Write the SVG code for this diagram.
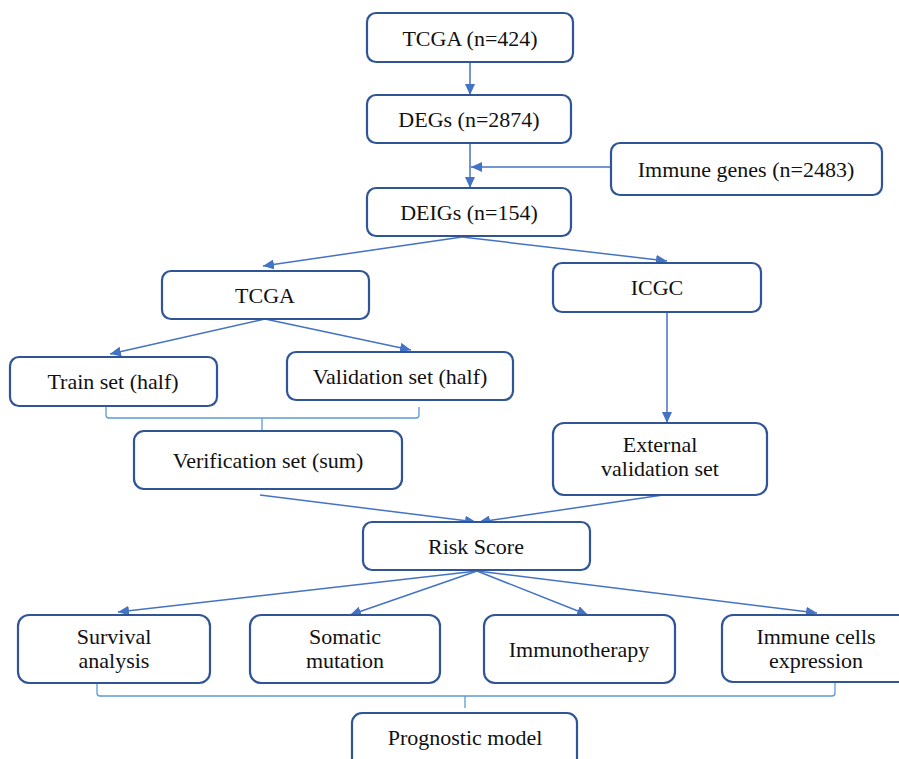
<svg xmlns="http://www.w3.org/2000/svg" width="899" height="759" viewBox="0 0 899 759">
<defs>
<style>
.box{fill:#fff;stroke:#2F5597;stroke-width:2.2}
text{font-family:'Liberation Serif','DejaVu Serif','Times New Roman',serif;font-size:22px;fill:#111;text-anchor:middle}
.c{fill:none;stroke:#4472C4;stroke-width:1.5}
.b{fill:none;stroke:#5B9BD5;stroke-width:1.3}
</style>
<marker id="ah" markerUnits="userSpaceOnUse" markerWidth="12" markerHeight="10" refX="11" refY="5" orient="auto">
<path d="M0,0 L11,5 L0,10 z" fill="#4472C4"/>
</marker>
</defs>
<rect width="899" height="759" fill="#fff"/>
<g id="connectors">
<line class="c" x1="470" y1="62" x2="470" y2="95" marker-end="url(#ah)"/>
<line class="c" x1="470" y1="143" x2="470" y2="188" marker-end="url(#ah)"/>
<line class="c" x1="611" y1="167" x2="471" y2="167" marker-end="url(#ah)"/>
<line class="c" x1="462" y1="237" x2="263" y2="266" marker-end="url(#ah)"/>
<line class="c" x1="462" y1="237" x2="667" y2="261" marker-end="url(#ah)"/>
<line class="c" x1="265" y1="319" x2="110" y2="354" marker-end="url(#ah)"/>
<line class="c" x1="265" y1="319" x2="411" y2="350" marker-end="url(#ah)"/>
<line class="c" x1="667" y1="312" x2="667" y2="423" marker-end="url(#ah)"/>
<line class="c" x1="260" y1="495" x2="476" y2="522" marker-end="url(#ah)"/>
<line class="c" x1="663" y1="495" x2="479" y2="522" marker-end="url(#ah)"/>
<line class="c" x1="477" y1="571" x2="118" y2="612" marker-end="url(#ah)"/>
<line class="c" x1="477" y1="571" x2="350" y2="615" marker-end="url(#ah)"/>
<line class="c" x1="477" y1="571" x2="588" y2="615" marker-end="url(#ah)"/>
<line class="c" x1="477" y1="571" x2="817" y2="613" marker-end="url(#ah)"/>
<path class="b" d="M106,407 V415 Q106,418 109,418 H416 Q419,418 419,415 V407 M262,418 V430"/>
<path class="b" d="M97,683 V693 Q97,696 100,696 H832 Q835,696 835,693 V683 M465,696 V708"/>
</g>
<g id="tcga424"><rect class="box" x="367" y="13" width="206" height="49" rx="9"/><text x="470" y="46">TCGA (n=424)</text></g>
<g id="degs"><rect class="box" x="367" y="95" width="204" height="48" rx="9"/><text x="469" y="127">DEGs (n=2874)</text></g>
<g id="immune"><rect class="box" x="611" y="143" width="271" height="52" rx="9"/><text x="746" y="177">Immune genes (n=2483)</text></g>
<g id="deigs"><rect class="box" x="367" y="188" width="204" height="48" rx="9"/><text x="469" y="220">DEIGs (n=154)</text></g>
<g id="tcga"><rect class="box" x="162" y="271" width="207" height="48" rx="9"/><text x="265" y="303">TCGA</text></g>
<g id="icgc"><rect class="box" x="553" y="263" width="208" height="49" rx="9"/><text x="657" y="295">ICGC</text></g>
<g id="train"><rect class="box" x="10" y="357" width="207" height="49" rx="9"/><text x="113" y="389">Train set (half)</text></g>
<g id="validation"><rect class="box" x="287" y="352" width="226" height="48" rx="9"/><text x="400" y="384">Validation set (half)</text></g>
<g id="verification"><rect class="box" x="134" y="431" width="268" height="58" rx="10"/><text x="268" y="468">Verification set (sum)</text></g>
<g id="external"><rect class="box" x="553" y="423" width="214" height="72" rx="11"/><text x="660" y="452">External</text><text x="660" y="476">validation set</text></g>
<g id="risk"><rect class="box" x="363" y="522" width="227" height="48" rx="9"/><text x="476" y="554">Risk Score</text></g>
<g id="survival"><rect class="box" x="18" y="615" width="192" height="68" rx="11"/><text x="114" y="644">Survival</text><text x="114" y="668">analysis</text></g>
<g id="somatic"><rect class="box" x="250" y="615" width="190" height="68" rx="11"/><text x="345" y="644">Somatic</text><text x="345" y="668">mutation</text></g>
<g id="immunotherapy"><rect class="box" x="484" y="615" width="191" height="68" rx="11"/><text x="579" y="657">Immunotherapy</text></g>
<g id="immunecells"><rect class="box" x="722" y="615" width="190" height="67" rx="11"/><text x="816" y="644">Immune cells</text><text x="816" y="668">expression</text></g>
<g id="prognostic"><rect class="box" x="352" y="713" width="225" height="60" rx="10"/><text x="465" y="745">Prognostic model</text></g>
</svg>
